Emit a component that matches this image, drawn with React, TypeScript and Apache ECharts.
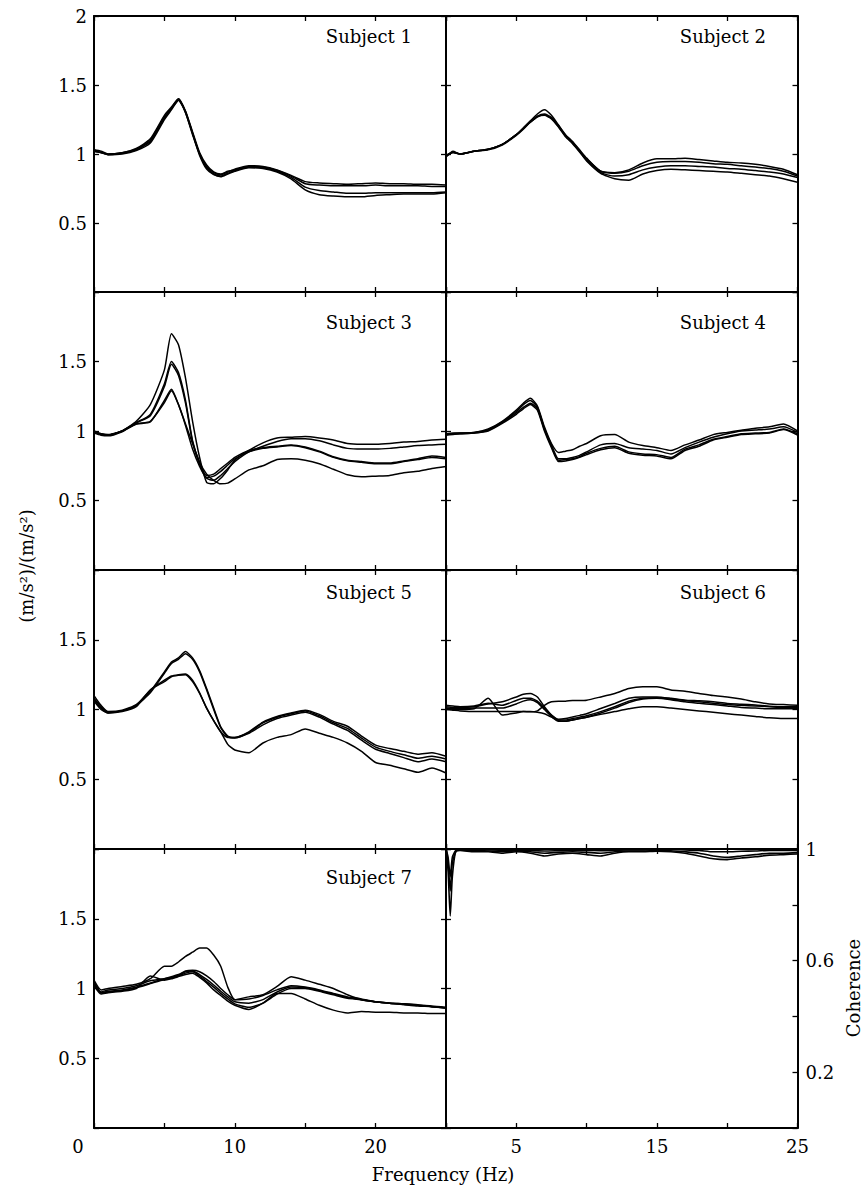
import React, { useEffect, useRef } from "react";
import * as echarts from "echarts";

const FREQ = [0, 0.5, 1, 2, 3, 4, 5, 5.5, 6, 6.5, 7, 7.5, 8, 8.5, 9, 9.5, 10, 11, 12, 13, 14, 15, 16, 17, 18, 19, 20, 21, 22, 23, 24, 25];

const S1_A = [1.03,1.02,1.00,1.01,1.04,1.11,1.28,1.34,1.40,1.30,1.15,1.00,0.91,0.865,0.85,0.87,0.89,0.915,0.91,0.885,0.845,0.80,0.79,0.785,0.78,0.785,0.79,0.785,0.785,0.78,0.78,0.775];
const S1_B = [1.02,1.01,1.00,1.01,1.035,1.10,1.27,1.33,1.39,1.31,1.16,1.01,0.92,0.87,0.855,0.875,0.885,0.91,0.905,0.88,0.84,0.785,0.775,0.77,0.77,0.77,0.775,0.77,0.77,0.77,0.765,0.765];
const S1_C = [1.03,1.01,0.995,1.005,1.03,1.09,1.26,1.33,1.40,1.31,1.15,1.00,0.90,0.855,0.84,0.86,0.88,0.905,0.90,0.875,0.83,0.76,0.735,0.725,0.715,0.715,0.72,0.72,0.72,0.72,0.72,0.725];
const S1_D = [1.02,1.01,0.995,1.00,1.025,1.08,1.25,1.32,1.39,1.30,1.14,0.99,0.89,0.85,0.835,0.855,0.875,0.90,0.895,0.87,0.82,0.74,0.705,0.695,0.69,0.69,0.70,0.705,0.71,0.71,0.71,0.72];

const S2_A = [0.98,1.02,1.00,1.02,1.035,1.07,1.14,1.19,1.24,1.29,1.32,1.28,1.21,1.14,1.09,1.03,0.97,0.875,0.865,0.885,0.935,0.965,0.965,0.97,0.96,0.95,0.94,0.935,0.925,0.91,0.89,0.85];
const S2_B = [0.99,1.01,1.00,1.02,1.035,1.07,1.14,1.185,1.235,1.275,1.29,1.265,1.205,1.135,1.085,1.025,0.965,0.875,0.86,0.875,0.915,0.94,0.945,0.945,0.94,0.93,0.925,0.915,0.905,0.895,0.875,0.84];
const S2_C = [0.98,1.01,1.00,1.02,1.03,1.065,1.135,1.18,1.23,1.27,1.285,1.26,1.20,1.13,1.08,1.02,0.955,0.865,0.84,0.85,0.885,0.905,0.915,0.915,0.91,0.905,0.895,0.89,0.88,0.87,0.855,0.83];
const S2_D = [0.985,1.015,1.00,1.02,1.035,1.07,1.14,1.185,1.23,1.27,1.28,1.255,1.195,1.125,1.075,1.015,0.95,0.86,0.82,0.81,0.855,0.88,0.89,0.885,0.88,0.875,0.87,0.86,0.85,0.84,0.82,0.795];

const S3_A = [0.99,0.975,0.97,1.00,1.07,1.19,1.44,1.70,1.62,1.38,1.07,0.81,0.63,0.62,0.66,0.72,0.79,0.86,0.915,0.95,0.955,0.96,0.95,0.935,0.91,0.905,0.905,0.91,0.92,0.925,0.935,0.94];
const S3_B = [0.995,0.98,0.97,1.00,1.06,1.12,1.34,1.50,1.42,1.22,0.93,0.77,0.68,0.69,0.73,0.77,0.81,0.86,0.88,0.89,0.90,0.885,0.855,0.815,0.79,0.78,0.77,0.77,0.785,0.80,0.82,0.81];
const S3_C = [1.00,0.98,0.975,1.00,1.06,1.11,1.32,1.48,1.40,1.20,0.92,0.76,0.665,0.675,0.71,0.755,0.80,0.85,0.875,0.885,0.895,0.88,0.85,0.81,0.785,0.775,0.765,0.765,0.78,0.795,0.81,0.80];
const S3_D = [0.99,0.975,0.97,1.00,1.05,1.065,1.22,1.30,1.19,1.04,0.87,0.745,0.66,0.645,0.68,0.73,0.78,0.85,0.89,0.925,0.945,0.945,0.93,0.90,0.875,0.87,0.87,0.875,0.885,0.895,0.90,0.905];
const S3_E = [0.985,0.97,0.965,0.995,1.05,1.07,1.205,1.29,1.19,1.05,0.91,0.775,0.69,0.645,0.62,0.625,0.655,0.72,0.75,0.795,0.80,0.79,0.765,0.725,0.685,0.67,0.675,0.68,0.70,0.71,0.73,0.745];

const S4_A = [0.98,0.985,0.985,0.99,1.015,1.07,1.15,1.20,1.235,1.18,1.03,0.91,0.845,0.855,0.865,0.89,0.91,0.966,0.974,0.92,0.895,0.88,0.86,0.90,0.935,0.974,0.99,1.005,1.02,1.03,1.05,1.00];
const S4_B = [0.98,0.98,0.985,0.99,1.01,1.065,1.14,1.19,1.22,1.17,1.02,0.90,0.80,0.80,0.81,0.825,0.85,0.90,0.91,0.88,0.87,0.86,0.835,0.88,0.92,0.955,0.98,1.00,1.007,1.014,1.03,0.99];
const S4_C = [0.975,0.98,0.98,0.985,1.005,1.06,1.13,1.17,1.20,1.16,1.01,0.89,0.79,0.795,0.80,0.815,0.84,0.875,0.89,0.85,0.835,0.83,0.81,0.87,0.90,0.94,0.96,0.98,0.985,0.99,1.015,0.98];
const S4_D = [0.97,0.975,0.98,0.985,1.00,1.055,1.12,1.16,1.19,1.15,1.00,0.88,0.78,0.785,0.795,0.81,0.83,0.865,0.88,0.84,0.825,0.82,0.80,0.86,0.89,0.935,0.955,0.975,0.98,0.985,1.01,0.97];

const S5_A = [1.10,1.03,0.985,0.995,1.035,1.13,1.27,1.34,1.37,1.415,1.37,1.28,1.15,1.01,0.875,0.81,0.80,0.84,0.91,0.95,0.975,0.995,0.965,0.915,0.88,0.81,0.745,0.72,0.70,0.68,0.69,0.665];
const S5_B = [1.08,1.02,0.98,0.99,1.03,1.12,1.26,1.33,1.36,1.40,1.36,1.27,1.14,1.00,0.87,0.805,0.795,0.835,0.905,0.945,0.97,0.99,0.955,0.905,0.865,0.795,0.73,0.70,0.675,0.65,0.665,0.645];
const S5_C = [1.07,1.01,0.975,0.985,1.02,1.14,1.21,1.24,1.25,1.255,1.21,1.12,1.01,0.92,0.84,0.80,0.80,0.83,0.89,0.935,0.96,0.98,0.945,0.895,0.85,0.78,0.715,0.685,0.655,0.625,0.645,0.625];
const S5_D = [1.06,1.00,0.975,0.99,1.03,1.14,1.20,1.235,1.245,1.25,1.20,1.115,1.01,0.92,0.84,0.75,0.71,0.69,0.76,0.80,0.82,0.86,0.83,0.80,0.76,0.70,0.62,0.60,0.575,0.55,0.58,0.545];

const S6_A = [1.00,0.995,0.99,0.985,0.985,0.985,0.985,0.985,0.983,0.99,1.03,1.055,1.06,1.06,1.065,1.065,1.067,1.09,1.115,1.15,1.163,1.163,1.14,1.13,1.115,1.10,1.09,1.075,1.055,1.04,1.035,1.03];
const S6_B = [1.02,1.015,1.015,1.02,1.04,1.055,1.09,1.11,1.115,1.09,1.02,0.96,0.93,0.935,0.947,0.958,0.97,1.007,1.043,1.08,1.09,1.09,1.08,1.067,1.062,1.055,1.043,1.038,1.032,1.024,1.02,1.02];
const S6_C = [1.01,1.005,1.005,1.01,1.01,1.01,1.04,1.06,1.07,1.05,1.00,0.95,0.915,0.915,0.925,0.935,0.945,0.975,1.01,1.05,1.075,1.08,1.07,1.055,1.045,1.035,1.025,1.015,1.01,1.005,1.005,1.005];
const S6_D = [1.01,1.00,1.00,1.005,1.08,0.96,0.975,0.985,0.985,0.98,0.97,0.945,0.92,0.915,0.925,0.935,0.945,0.965,0.985,1.005,1.02,1.02,1.01,1.00,0.99,0.98,0.97,0.96,0.95,0.94,0.935,0.935];
const S6_E = [1.03,1.025,1.02,1.025,1.045,1.03,1.065,1.08,1.08,1.06,1.01,0.96,0.925,0.925,0.935,0.945,0.955,0.985,1.02,1.06,1.08,1.085,1.075,1.065,1.055,1.045,1.035,1.03,1.025,1.02,1.015,1.015];

const S7_A = [1.06,0.99,1.00,1.015,1.03,1.07,1.16,1.16,1.19,1.23,1.26,1.29,1.29,1.24,1.16,1.01,0.92,0.94,0.955,1.015,1.085,1.06,1.03,1.00,0.955,0.92,0.905,0.895,0.89,0.883,0.87,0.86];
const S7_B = [1.05,0.975,0.99,1.00,1.02,1.055,1.07,1.085,1.10,1.125,1.13,1.12,1.09,1.05,1.00,0.955,0.92,0.925,0.95,0.99,1.02,1.01,0.99,0.965,0.94,0.925,0.905,0.895,0.89,0.88,0.875,0.865];
const S7_C = [1.04,0.97,0.98,0.99,1.01,1.04,1.07,1.08,1.095,1.12,1.125,1.10,1.065,1.025,0.98,0.94,0.905,0.895,0.92,0.975,1.01,1.005,0.985,0.96,0.935,0.92,0.905,0.895,0.885,0.88,0.87,0.86];
const S7_D = [1.03,0.97,0.975,0.985,1.005,1.035,1.065,1.075,1.09,1.11,1.12,1.09,1.05,1.01,0.965,0.925,0.89,0.865,0.895,0.96,1.00,1.00,0.98,0.955,0.93,0.92,0.905,0.895,0.885,0.875,0.87,0.86];
const S7_E = [1.02,0.96,0.97,0.98,1.00,1.09,1.06,1.07,1.085,1.10,1.11,1.08,1.04,0.99,0.95,0.91,0.88,0.85,0.895,0.965,0.965,0.925,0.88,0.845,0.825,0.835,0.83,0.83,0.825,0.825,0.82,0.82];

const COH_FREQ = [0, 0.15, 0.3, 0.45, 0.7, 1, 2, 3, 4, 5, 6, 7, 8, 9, 10, 11, 12, 13, 14, 15, 16, 17, 18, 19, 20, 21, 22, 23, 24, 25];
const COH_A = [1.0,0.92,0.76,0.90,0.995,0.998,0.998,0.997,0.996,0.996,0.995,0.993,0.994,0.995,0.995,0.994,0.996,0.997,0.997,0.998,0.998,0.997,0.995,0.99,0.99,0.992,0.993,0.995,0.995,0.995];
const COH_B = [1.0,0.95,0.85,0.95,0.99,0.995,0.99,0.99,0.985,0.99,0.985,0.975,0.982,0.985,0.98,0.975,0.985,0.99,0.99,0.992,0.99,0.985,0.975,0.965,0.962,0.968,0.972,0.978,0.98,0.982];
const COH_C = [1.0,0.97,0.90,0.97,0.995,0.997,0.995,0.993,0.99,0.993,0.99,0.985,0.988,0.99,0.988,0.985,0.99,0.993,0.993,0.995,0.994,0.99,0.985,0.975,0.97,0.975,0.98,0.985,0.985,0.987];

const SUBJECT_LABELS = ["Subject 1", "Subject 2", "Subject 3", "Subject 4", "Subject 5", "Subject 6", "Subject 7"];
const SUBJECT_CURVES = [
  [S1_A, S1_B, S1_C, S1_D],
  [S2_A, S2_B, S2_C, S2_D],
  [S3_A, S3_B, S3_C, S3_D, S3_E],
  [S4_A, S4_B, S4_C, S4_D],
  [S5_A, S5_B, S5_C, S5_D],
  [S6_A, S6_B, S6_C, S6_D, S6_E],
  [S7_A, S7_B, S7_C, S7_D, S7_E],
];
const COH_CURVES = [COH_A, COH_B, COH_C];

const FONT = "DejaVu Serif";
const COL_LEFT = [94, 446];
const COL_WIDTH = [352, 351.5];
const ROW_TOP = [16, 292, 570, 849];
const ROW_HEIGHT = [276, 278, 279, 279];
const LABEL_Y = [36, 322, 592, 877];

function buildOption() {
  const grid: any[] = [];
  const xAxis: any[] = [];
  const yAxis: any[] = [];
  const series: any[] = [];
  const graphic: any[] = [];
  const axisLine = { onZero: false, lineStyle: { color: "#000", width: 2 } };
  const axisTick = { inside: true, length: 5, lineStyle: { color: "#000", width: 1.3 } };

  for (let i = 0; i < 8; i++) {
    const row = Math.floor(i / 2);
    const col = i % 2;
    grid.push({ left: COL_LEFT[col], top: ROW_TOP[row], width: COL_WIDTH[col], height: ROW_HEIGHT[row] });
    xAxis.push({
      gridIndex: i, type: "value", min: 0, max: 25, interval: 5, position: "bottom",
      axisLine, axisTick, splitLine: { show: false },
      axisLabel: {
        show: row === 3, color: "#000", fontFamily: FONT, fontSize: 18, margin: 9,
        formatter: (v: number) => {
          if (col === 0) {
            if (v === 0) return "{z|0}";
            return v % 10 === 0 ? String(v) : "";
          }
          return v % 10 === 5 ? String(v) : "";
        },
        rich: { z: { fontFamily: FONT, fontSize: 18, color: "#000", padding: [0, 32, 0, 0] } },
      },
    });
    xAxis.push({
      gridIndex: i, type: "value", min: 0, max: 25, interval: 5, position: "top",
      axisLine, axisTick, splitLine: { show: false }, axisLabel: { show: false },
    });
    yAxis.push({
      gridIndex: i, type: "value", min: 0, max: 2, interval: 0.5, position: "left",
      axisLine, axisTick, splitLine: { show: false },
      axisLabel: {
        show: col === 0, color: "#000", fontFamily: FONT, fontSize: 18, margin: 7,
        formatter: (v: number) => {
          if (v === 0) return "";
          if (v === 2 && row > 0) return "";
          return String(v);
        },
      },
    });
    if (i === 7) {
      yAxis.push({
        gridIndex: i, type: "value", min: 0, max: 1, interval: 0.2, position: "right",
        axisLine, axisTick, splitLine: { show: false },
        axisLabel: {
          show: true, color: "#000", fontFamily: FONT, fontSize: 18, margin: 8,
          formatter: (v: number) => {
            const r = Math.round(v * 10) / 10;
            return r === 0.2 || r === 0.6 || r === 1 ? String(r) : "";
          },
        },
      });
    } else {
      yAxis.push({
        gridIndex: i, type: "value", min: 0, max: 2, interval: 0.5, position: "right",
        axisLine, axisTick, splitLine: { show: false }, axisLabel: { show: false },
      });
    }
  }

  SUBJECT_CURVES.forEach((curves, s) => {
    curves.forEach((vals, k) => {
      series.push({
        type: "line", name: SUBJECT_LABELS[s] + " " + (k + 1),
        xAxisIndex: 2 * s, yAxisIndex: 2 * s,
        data: FREQ.map((f, j) => [f, vals[j]]),
        showSymbol: false, smooth: 0.2,
        lineStyle: { color: "#000", width: 1.5 },
      });
    });
    const row = Math.floor(s / 2);
    const col = s % 2;
    graphic.push({
      type: "text",
      x: col === 0 ? 412 : 766,
      y: LABEL_Y[row],
      style: {
        text: SUBJECT_LABELS[s], font: `18px "${FONT}"`, fill: "#000",
        textAlign: "right", align: "right", textVerticalAlign: "middle", verticalAlign: "middle",
      },
    });
  });

  COH_CURVES.forEach((vals, k) => {
    series.push({
      type: "line", name: "Coherence " + (k + 1),
      xAxisIndex: 14, yAxisIndex: 15,
      data: COH_FREQ.map((f, j) => [f, vals[j]]),
      showSymbol: false, smooth: 0.2,
      lineStyle: { color: "#000", width: 1.6 },
    });
  });

  graphic.push({
    type: "text", x: 26, y: 566, rotation: Math.PI / 2,
    style: {
      text: "(m/s²)/(m/s²)", font: `18px "${FONT}"`, fill: "#000",
      textAlign: "center", align: "center", textVerticalAlign: "middle", verticalAlign: "middle",
    },
  });
  graphic.push({
    type: "text", x: 853, y: 988, rotation: Math.PI / 2,
    style: {
      text: "Coherence", font: `18px "${FONT}"`, fill: "#000",
      textAlign: "center", align: "center", textVerticalAlign: "middle", verticalAlign: "middle",
    },
  });
  graphic.push({
    type: "text", x: 443, y: 1174,
    style: {
      text: "Frequency (Hz)", font: `18px "${FONT}"`, fill: "#000",
      textAlign: "center", align: "center", textVerticalAlign: "middle", verticalAlign: "middle",
    },
  });

  return {
    animation: false,
    backgroundColor: "#fff",
    grid, xAxis, yAxis, series, graphic,
  };
}

export default function App() {
  const ref = useRef<HTMLDivElement>(null);
  useEffect(() => {
    if (!ref.current) return;
    const chart = echarts.init(ref.current, undefined, { renderer: "svg" });
    chart.setOption(buildOption());
    return () => chart.dispose();
  }, []);
  return (
    <div
      ref={ref}
      style={{ position: "absolute", left: 0, top: 0, width: 864, height: 1188, background: "#fff" }}
    />
  );
}
